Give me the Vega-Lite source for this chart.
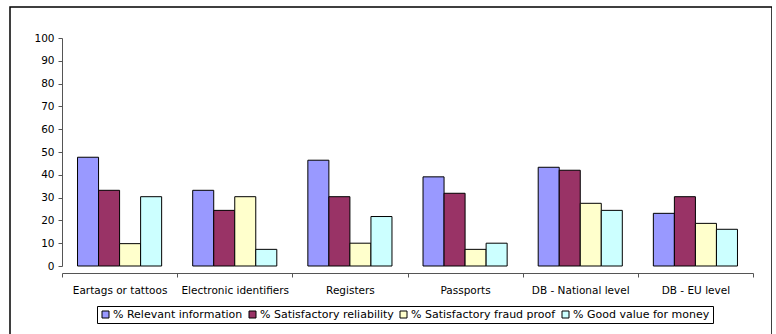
{
  "$schema": "https://vega.github.io/schema/vega-lite/v6.json",
  "autosize": "none",
  "padding": {"left": 10, "top": 7, "right": 0, "bottom": 0},
  "width": 762,
  "height": 330,
  "background": "white",
  "config": {
    "view": {"stroke": "#000000", "strokeWidth": 1.5},
    "font": "DejaVu Sans"
  },
  "data": {
    "values": [
      {"method": "Eartags or tattoos", "series": "% Relevant information", "value": 47.7},
      {"method": "Eartags or tattoos", "series": "% Satisfactory reliability", "value": 33.2},
      {"method": "Eartags or tattoos", "series": "% Satisfactory fraud proof", "value": 9.8},
      {"method": "Eartags or tattoos", "series": "% Good value for money", "value": 30.4},
      {"method": "Electronic identifiers", "series": "% Relevant information", "value": 33.2},
      {"method": "Electronic identifiers", "series": "% Satisfactory reliability", "value": 24.4},
      {"method": "Electronic identifiers", "series": "% Satisfactory fraud proof", "value": 30.4},
      {"method": "Electronic identifiers", "series": "% Good value for money", "value": 7.3},
      {"method": "Registers", "series": "% Relevant information", "value": 46.4},
      {"method": "Registers", "series": "% Satisfactory reliability", "value": 30.4},
      {"method": "Registers", "series": "% Satisfactory fraud proof", "value": 10},
      {"method": "Registers", "series": "% Good value for money", "value": 21.7},
      {"method": "Passports", "series": "% Relevant information", "value": 39.1},
      {"method": "Passports", "series": "% Satisfactory reliability", "value": 31.9},
      {"method": "Passports", "series": "% Satisfactory fraud proof", "value": 7.3},
      {"method": "Passports", "series": "% Good value for money", "value": 10},
      {"method": "DB - National level", "series": "% Relevant information", "value": 43.3},
      {"method": "DB - National level", "series": "% Satisfactory reliability", "value": 42},
      {"method": "DB - National level", "series": "% Satisfactory fraud proof", "value": 27.5},
      {"method": "DB - National level", "series": "% Good value for money", "value": 24.4},
      {"method": "DB - EU level", "series": "% Relevant information", "value": 23.1},
      {"method": "DB - EU level", "series": "% Satisfactory reliability", "value": 30.4},
      {"method": "DB - EU level", "series": "% Satisfactory fraud proof", "value": 18.7},
      {"method": "DB - EU level", "series": "% Good value for money", "value": 16.1}
    ]
  },
  "mark": {"type": "bar", "stroke": "#000000", "strokeWidth": 1},
  "encoding": {
    "x": {
      "field": "method",
      "type": "nominal",
      "sort": null,
      "title": null,
      "scale": {"range": [52, 743], "paddingInner": 0, "paddingOuter": 0},
      "axis": {
        "offset": -64,
        "tickBand": "extent",
        "labelAngle": 0,
        "labelFontSize": 10.5,
        "labelColor": "#000000",
        "labelPadding": 8,
        "domainColor": "#555555",
        "tickColor": "#555555",
        "tickSize": 4,
        "grid": false
      }
    },
    "xOffset": {
      "field": "series",
      "type": "nominal",
      "sort": ["% Relevant information", "% Satisfactory reliability", "% Satisfactory fraud proof", "% Good value for money"],
      "scale": {"paddingInner": 0, "paddingOuter": 0.738}
    },
    "y": {
      "field": "value",
      "type": "quantitative",
      "title": null,
      "scale": {"domain": [0, 100], "range": [259, 31], "nice": false},
      "axis": {
        "offset": -52,
        "values": [0, 10, 20, 30, 40, 50, 60, 70, 80, 90, 100],
        "grid": false,
        "labelFontSize": 10.5,
        "labelColor": "#000000",
        "labelPadding": 4,
        "domainColor": "#555555",
        "tickColor": "#555555",
        "tickSize": 4
      }
    },
    "color": {
      "field": "series",
      "type": "nominal",
      "sort": ["% Relevant information", "% Satisfactory reliability", "% Satisfactory fraud proof", "% Good value for money"],
      "scale": {"range": ["#9999FF", "#993366", "#FFFFCC", "#CCFFFF"]},
      "legend": {
        "title": null,
        "orient": "none",
        "direction": "horizontal",
        "legendX": 87,
        "legendY": 299,
        "symbolType": "square",
        "symbolSize": 49,
        "symbolStrokeColor": "#000000",
        "symbolStrokeWidth": 1,
        "labelFontSize": 11,
        "labelColor": "#000000",
        "labelOffset": 2,
        "columnPadding": 4,
        "strokeColor": "#000000",
        "padding": 3
      }
    }
  }
}
